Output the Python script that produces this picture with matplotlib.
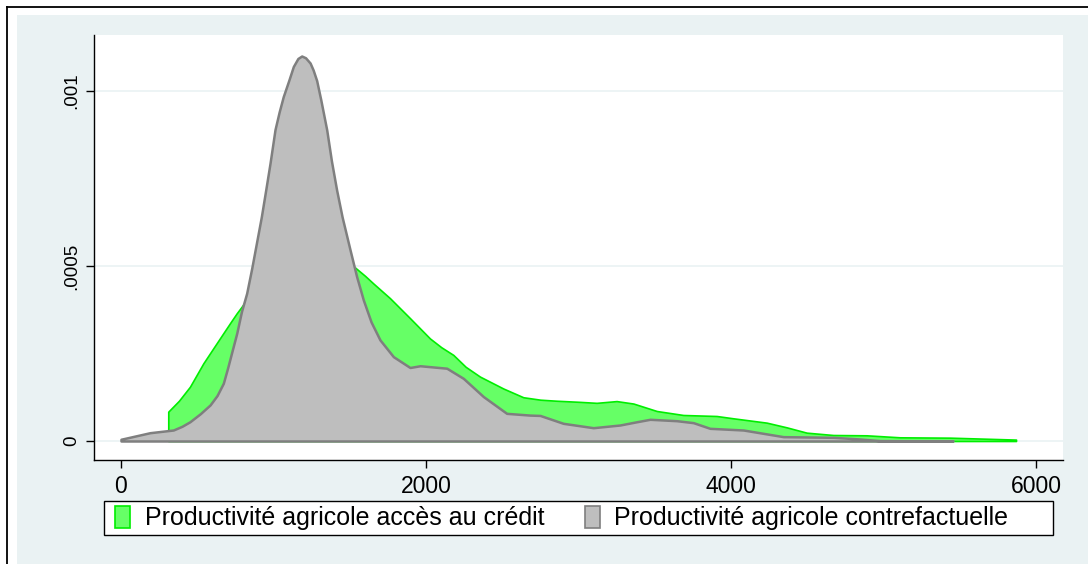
import numpy as np
import matplotlib
matplotlib.use("Agg")
import matplotlib.pyplot as plt
from matplotlib.patches import Rectangle, Patch
from matplotlib.lines import Line2D

plt.rcParams['font.family'] = ['Liberation Sans', 'DejaVu Sans']

# densite estimee - productivite avec acces au credit
x_credit = [310, 380, 452, 540, 610, 671, 720, 759, 807, 900, 1000, 1100, 1200,
            1300, 1400, 1534, 1600, 1655, 1764, 1895, 2026, 2100, 2179, 2260, 2354,
            2507, 2638, 2750, 2857, 3000, 3119, 3250, 3360, 3513, 3687, 3906, 4015,
            4234, 4365, 4496, 4671, 4890, 5108, 5436, 5869]
y_credit = [0.0000838, 0.000115, 0.000155, 0.000222, 0.000268, 0.000308,
            0.00034, 0.000365, 0.000393, 0.00043, 0.00046, 0.00049, 0.00051,
            0.00052, 0.00052, 0.000496, 0.000472, 0.00045, 0.000408, 0.000351,
            0.000293, 0.000268, 0.000246, 0.000212, 0.000184, 0.00015, 0.000125,
            0.000118, 0.000115, 0.000112, 0.000109, 0.000114, 0.000107, 0.0000857,
            0.0000743, 0.0000714, 0.0000648, 0.0000524, 0.000039, 0.0000238,
            0.0000171, 0.0000162, 0.0000105, 0.0000095, 0.000004]

# densite estimee - productivite contrefactuelle
x_contre = [0, 190, 343, 400, 452, 520, 584, 630, 671, 700, 730, 759, 790, 824, 857,
            890, 920, 950, 977, 1010, 1037, 1064, 1100, 1130, 1160, 1185, 1210, 1240,
            1260, 1283, 1310, 1349, 1380, 1414, 1450, 1502, 1545, 1589, 1640, 1698,
            1786, 1895, 1961, 2136, 2245, 2376, 2529, 2682, 2748, 2900, 3097, 3272,
            3382, 3469, 3644, 3753, 3862, 4081, 4343, 4671, 4846, 4977, 5456]
y_contre = [0.000005, 0.0000237, 0.0000314, 0.000042, 0.000055, 0.000078, 0.000103,
            0.00013, 0.000165, 0.00021, 0.00026, 0.000308, 0.00037, 0.000422,
            0.000493, 0.00057, 0.00064, 0.00072, 0.000793, 0.00089, 0.00094,
            0.000984, 0.00103, 0.00107, 0.001093, 0.0011, 0.001095, 0.00108,
            0.00106, 0.00103, 0.000975, 0.000889, 0.0008, 0.000717, 0.00064,
            0.000546, 0.00047, 0.000403, 0.00034, 0.000289, 0.000241, 0.00021,
            0.000215, 0.000208, 0.000179, 0.000127, 0.000079, 0.000074, 0.000073,
            0.0000505, 0.000038, 0.0000457, 0.000055, 0.000062, 0.000058,
            0.0000524, 0.0000362, 0.0000314, 0.0000124, 0.0000105, 0.0000057,
            0.000001, 0.0]

labels = ["Productivité agricole accès au crédit",
          "Productivité agricole contrefactuelle"]

W, H = 1088, 564
fig = plt.figure(figsize=(W / 100, H / 100), dpi=100)
fig.patch.set_facecolor("white")

bg = "#eaf2f3"
fig.patches.append(Rectangle((17 / W, 0.0), 1, 1 - 15 / H, transform=fig.transFigure,
                             facecolor=bg, edgecolor="none", zorder=-2))
fig.add_artist(Line2D([7 / W, 1], [1 - 7 / H, 1 - 7 / H], transform=fig.transFigure,
                      color="black", lw=1.3))
fig.add_artist(Line2D([7 / W, 7 / W], [0, 1 - 7 / H], transform=fig.transFigure,
                      color="black", lw=1.3))

ax = fig.add_axes([94 / W, 1 - 460 / H, (1063 - 94) / W, (460 - 35) / H])
ax.set_facecolor("white")

# aires avec contour (comme twoway area de Stata)
ax.fill_between(x_credit, y_credit, 0, facecolor="#66ff66", edgecolor="#00ee00",
                lw=1.2, zorder=2)
ax.fill_between(x_contre, y_contre, 0, facecolor="#bebebe", edgecolor="#7f7f7f",
                lw=1.8, zorder=4)

ax.set_xlim(-177, 6177)
ax.set_ylim(-0.0000543, 0.00116)
ax.set_xticks([0, 2000, 4000, 6000])
ax.set_yticks([0, 0.0005, 0.001])
ax.set_yticklabels(["0", ".0005", ".001"], rotation=90, va="center")
ax.tick_params(axis="y", labelsize=13.5, length=6, width=1, direction="out", pad=4)
ax.tick_params(axis="x", labelsize=16.5, length=6, width=1, direction="out", pad=5)
ax.yaxis.grid(True, color=bg, lw=1.2, zorder=0)
ax.set_axisbelow(True)
for s in ["top", "right"]:
    ax.spines[s].set_visible(False)
for s in ["left", "bottom"]:
    ax.spines[s].set_linewidth(1)

# cadre de la legende
fig.patches.append(Rectangle((104 / W, 1 - 535 / H), 949 / W, 34 / H,
                             transform=fig.transFigure, facecolor="white",
                             edgecolor="black", lw=1, zorder=1))
handles = [Patch(facecolor="#66ff66", edgecolor="#00ee00", lw=1.2),
           Patch(facecolor="#bebebe", edgecolor="#7f7f7f", lw=1.2)]
leg = fig.legend(handles, labels, ncol=2, loc="center left",
                 bbox_to_anchor=(115 / W, 1 - 518 / H),
                 fontsize=18, frameon=False,
                 handlelength=0.6, handleheight=1.0, handletextpad=0.6,
                 columnspacing=1.6, borderpad=0, borderaxespad=0)
leg.set_zorder(2)

fig.savefig("out.png", dpi=100)
